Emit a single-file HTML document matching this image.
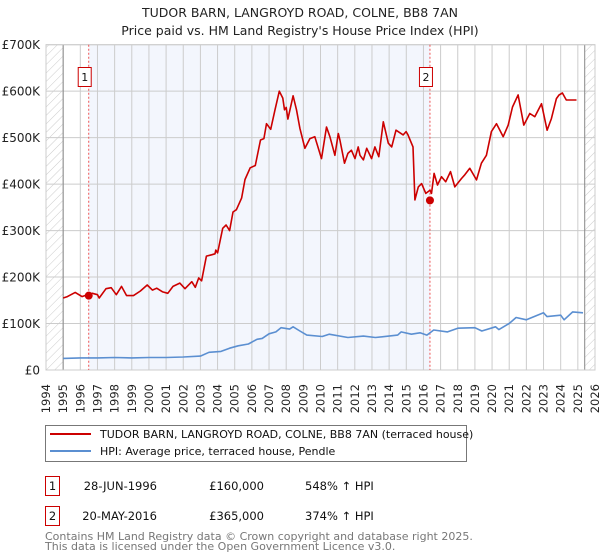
<!DOCTYPE html>
<html><head><meta charset="utf-8"><style>
body{margin:0;background:#fff;font-family:"DejaVu Sans","Liberation Sans",sans-serif;}
svg{display:block}
</style></head><body>
<svg id="c" width="600" height="560" xmlns="http://www.w3.org/2000/svg">
<defs><pattern id="hatch" width="6" height="6" patternUnits="userSpaceOnUse" patternTransform="rotate(45)"><line x1="0" y1="0" x2="0" y2="6" stroke="#ccc" stroke-width="1"/></pattern></defs>
<text x="300" y="17" text-anchor="middle" font-size="12.5" fill="#222">TUDOR BARN, LANGROYD ROAD, COLNE, BB8 7AN</text>
<text x="300" y="35" text-anchor="middle" font-size="12.5" fill="#222">Price paid vs. HM Land Registry's House Price Index (HPI)</text>
<g id="plot"></g>
<g>
<rect x="45.5" y="425.5" width="421" height="36" fill="#fff" stroke="#777"/>
<line x1="50" y1="434" x2="91" y2="434" stroke="#cc0000" stroke-width="2"/>
<text x="100" y="438" font-size="11" fill="#111">TUDOR BARN, LANGROYD ROAD, COLNE, BB8 7AN (terraced house)</text>
<line x1="50" y1="451" x2="91" y2="451" stroke="#5b8fd1" stroke-width="2"/>
<text x="100" y="455" font-size="11" fill="#111">HPI: Average price, terraced house, Pendle</text>
</g>
<g font-size="11.5" fill="#111">
<rect x="45.5" y="476.5" width="14" height="19" fill="#fff" stroke="#cc0000"/>
<text x="52.5" y="490" text-anchor="middle">1</text>
<text x="157" y="490" text-anchor="end">28-JUN-1996</text>
<text x="264" y="490" text-anchor="end">£160,000</text>
<text x="305" y="490">548% ↑ HPI</text>
<rect x="45.5" y="506.5" width="14" height="19" fill="#fff" stroke="#cc0000"/>
<text x="52.5" y="520" text-anchor="middle">2</text>
<text x="157" y="520" text-anchor="end">20-MAY-2016</text>
<text x="264" y="520" text-anchor="end">£365,000</text>
<text x="305" y="520">374% ↑ HPI</text>
</g>
<text x="45" y="540" font-size="11" fill="#777">Contains HM Land Registry data © Crown copyright and database right 2025.</text>
<text x="45" y="550" font-size="11" fill="#777">This data is licensed under the Open Government Licence v3.0.</text>
</svg>
<script>
const yTicks=[0,100,200,300,400,500,600,700];
const yTickLabels=["£0","£100K","£200K","£300K","£400K","£500K","£600K","£700K"];
const years=[1994,1995,1996,1997,1998,1999,2000,2001,2002,2003,2004,2005,2006,2007,2008,2009,2010,2011,2012,2013,2014,2015,2016,2017,2018,2019,2020,2021,2022,2023,2024,2025,2026];
const sales=[[1996.49,160],[2016.38,365]];
const redT=[1995,1995.25,1995.7,1996.1,1996.4,1996.7,1997,1997.1,1997.5,1997.8,1998.1,1998.4,1998.7,1999.1,1999.5,1999.9,2000.2,2000.45,2000.8,2001.1,2001.4,2001.8,2002.1,2002.5,2002.7,2002.9,2003.07,2003.35,2003.65,2003.85,2003.9,2004,2004.3,2004.5,2004.7,2004.9,2005.1,2005.4,2005.6,2005.9,2006.2,2006.5,2006.7,2006.85,2007.1,2007.35,2007.6,2007.8,2007.9,2008.0,2008.1,2008.4,2008.6,2008.8,2009.09,2009.38,2009.67,2010.06,2010.35,2010.55,2010.84,2011.04,2011.13,2011.4,2011.6,2011.8,2012.01,2012.2,2012.3,2012.5,2012.69,2012.98,2013.17,2013.4,2013.66,2013.95,2014.15,2014.4,2014.82,2014.99,2015.1,2015.39,2015.5,2015.7,2015.89,2016.14,2016.38,2016.47,2016.62,2016.82,2017.05,2017.3,2017.58,2017.83,2018.22,2018.41,2018.7,2019.09,2019.38,2019.67,2019.96,2020.26,2020.65,2020.94,2021.19,2021.52,2021.85,2022.2,2022.49,2022.88,2023.21,2023.46,2023.75,2023.91,2024.1,2024.33,2024.57,2024.92,2025.11,2025.3];
const redV=[155,158,167,158,162,165,162,155,175,177,162,180,160,160,170,183,172,176,168,165,180,187,175,190,178,198,192,245,248,250,258,252,305,312,300,340,345,370,410,435,440,495,498,530,518,560,600,585,560,565,540,590,560,520,477,498,502,455,523,502,462,509,495,445,466,473,455,480,462,452,477,455,480,459,534,488,480,516,506,513,506,480,366,394,401,380,387,380,423,398,416,405,427,394,412,420,434,409,445,462,513,530,502,527,566,592,527,552,545,573,516,541,584,592,596,581,581,581];
const blueT=[1995,1996,1997,1998,1999,2000,2001,2002,2003,2003.5,2004.2,2004.7,2005.2,2005.8,2006.3,2006.6,2007,2007.4,2007.7,2008.2,2008.4,2008.8,2009.2,2010.1,2010.5,2011.6,2012.5,2013.2,2014.5,2014.7,2015.3,2015.8,2016.2,2016.6,2017.4,2018,2019,2019.4,2020.2,2020.4,2021,2021.4,2022,2023,2023.2,2024,2024.2,2024.7,2025.3];
const blueV=[25,26,26,27,26,27,27,28,30,38,40,47,52,56,66,68,78,82,91,88,93,84,75,72,77,70,73,70,75,82,77,80,75,86,82,90,91,84,93,87,100,113,108,123,115,118,108,125,123];
const L=46,R=595,T=44.7,B=370;
const X=t=>L+(t-1994)/(2026-1994)*(R-L);
const Y=v=>B-v/700*(B-T);
const NS="http://www.w3.org/2000/svg";
const g=document.getElementById('plot');
function mk(tag,attrs,parent){const e=document.createElementNS(NS,tag);for(const k in attrs)e.setAttribute(k,attrs[k]);(parent||g).appendChild(e);return e;}
mk('rect',{x:L,y:T,width:R-L,height:B-T,fill:'#fff'});
let sh=mk('rect',{x:X(sales[0][0]),y:T,width:X(sales[1][0])-X(sales[0][0]),height:B-T,fill:'#f3f6fd'});


let h1=mk('rect',{x:L,y:T,width:X(1995)-L,height:B-T,fill:'url(#hatch)'});


let h2=mk('rect',{x:X(2025.4),y:T,width:R-X(2025.4),height:B-T,fill:'url(#hatch)'});


years.forEach(y=>{
  let l=mk('line',{x1:X(y),x2:X(y),y1:T,y2:B,stroke:'#ccc','stroke-width':1});
  
  
  let t=mk('text',{transform:`translate(${X(y)+4},384) rotate(-90)`,'text-anchor':'end','font-size':11.5,fill:'#222'});
  t.textContent=y;
  
  
});
yTicks.forEach((v,i)=>{
  let l=mk('line',{x1:L,x2:R,y1:Y(v),y2:Y(v),stroke:'#ccc','stroke-width':1});
  
  
  let t=mk('text',{x:L-6,y:Y(v)+4.5,'text-anchor':'end','font-size':12,fill:'#222'});
  t.textContent=yTickLabels[i];
  
  
});
let ax1=mk('line',{x1:X(1995),x2:X(1995),y1:T,y2:B,stroke:'#888'});


let ax2=mk('line',{x1:X(2025.4),x2:X(2025.4),y1:T,y2:B,stroke:'#888'});


mk('rect',{x:L,y:T,width:R-L,height:B-T,fill:'none',stroke:'#ccc'});
sales.forEach((s,i)=>{
  let d=mk('line',{x1:X(s[0]),x2:X(s[0]),y1:T,y2:B,stroke:'#ee5555','stroke-dasharray':'2,2'});
  
  
  let b=mk('rect',{x:X(s[0])-10.5,y:67.5,width:13,height:19,fill:'#fff',stroke:'#cc0000'});
  
  
  let t=mk('text',{x:X(s[0])-4,y:81,'text-anchor':'middle','font-size':11,fill:'#111'});
  t.textContent=String(i+1);
  
  
});
function line(ts,vs,color,name){
  let p=mk('path',{d:ts.map((t,i)=>(i?'L':'M')+X(t).toFixed(1)+','+Y(vs[i]).toFixed(1)).join(''),fill:'none',stroke:color,'stroke-width':1.6,'stroke-linejoin':'round'});
  
  
}
line(blueT,blueV,'#5b8fd1','hpi-line');
line(redT,redV,'#cc0000','price-line');
sales.forEach(s=>{
  let c=mk('circle',{cx:X(s[0]),cy:Y(s[1]),r:4,fill:'#cc0000'});
  
  
});
</script>
</body></html>
